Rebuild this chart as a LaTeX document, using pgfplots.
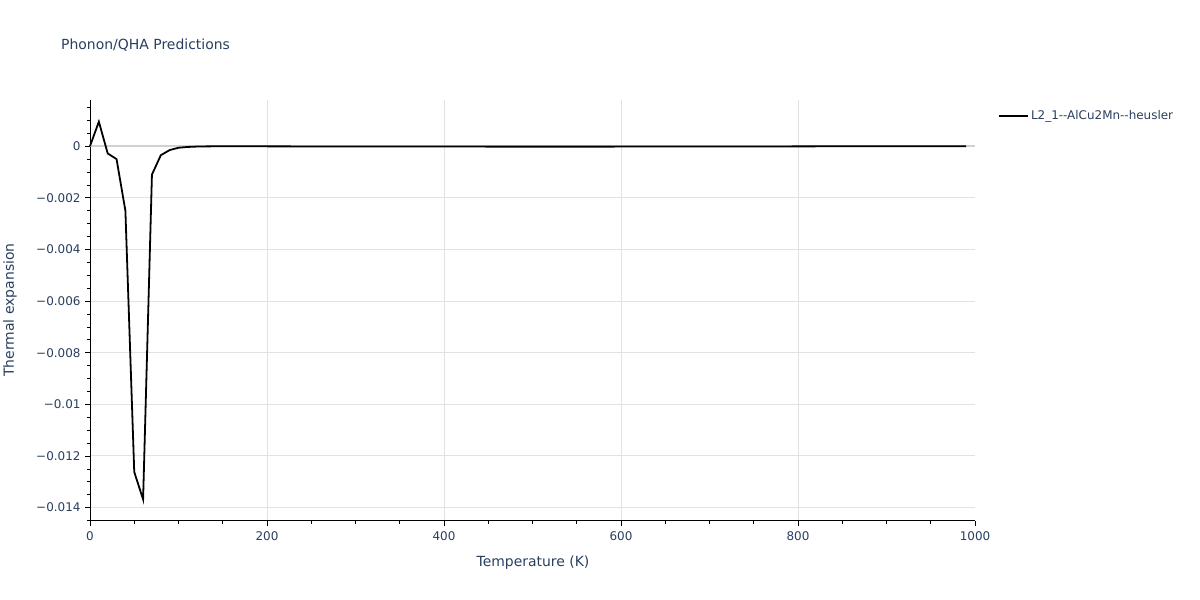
\documentclass[border=0pt]{standalone}
\usepackage{pgfplots}
\pgfplotsset{compat=1.18}
\usepackage{fontspec}
\setmainfont{DejaVu Sans}
\definecolor{txt}{HTML}{2A3F5F}
\definecolor{grd}{HTML}{E2E2E2}
\definecolor{zl}{HTML}{D0D0D0}
\begin{document}
\begin{tikzpicture}[x=1bp,y=1bp]
\fill[white] (0,0) rectangle (1200,600);
\begin{axis}[
  at={(90bp,79.3bp)}, anchor=south west,
  scale only axis, width=885bp, height=420.7bp,
  xmin=0, xmax=1000,
  ymin=-0.014506, ymax=0.00179,
  axis x line*=bottom, axis y line*=left,
  axis line style={black, line width=1pt},
  xtick={0,200,...,800},
  xticklabels={0,200,400,600,800},
  extra x ticks={1000},
  extra x tick labels={1000},
  extra x tick style={grid=none},
  minor xtick={50,100,...,950},
  ytick={-0.014,-0.012,...,0.0001},
  minor ytick={-0.0145,-0.014,...,0.0016},
  yticklabels={−0.014,−0.012,−0.01,−0.008,−0.006,−0.004,−0.002,0},
  tick align=outside,
  major tick length=5bp, minor tick length=3bp,
  tick style={black, line width=0.8pt},
  xmajorgrids, ymajorgrids,
  major grid style={grd, line width=1pt},
  ticklabel style={font=\fontsize{12}{14}\selectfont, text=txt},
  xticklabel style={yshift=-2bp},
  yticklabel style={xshift=-1bp},
  scaled y ticks=false,
  clip=false,
  legend style={at={(1.026,0.985)}, anchor=north west, draw=none, fill=none,
    font=\fontsize{12}{14}\selectfont, text=txt, inner xsep=0pt},
  legend cell align=left,
  legend image code/.code={\draw[#1] (0bp,0bp) -- (29bp,0bp);},
]
\draw[zl, line width=2pt] (axis cs:0,0) -- (axis cs:1000,0);
\addplot[black, line width=1.8pt, mark=none] coordinates {
(0,0) (10,0.00095) (20,-0.00028) (30,-0.0005) (40,-0.0025) (50,-0.01262)
(60,-0.01368) (70,-0.0011) (80,-0.00035) (90,-0.00015) (100,-0.00006)
(110,-0.00003) (120,-0.000015) (130,-0.000008) (140,-0.000005) (150,-0.000004)
(160,-0.000004) (170,-0.000005) (180,-0.000005) (190,-0.000006) (200,-0.000006)
(210,-0.000007) (220,-0.000007) (230,-0.000008) (240,-0.000008) (250,-0.000009)
(260,-0.000009) (270,-0.00001) (280,-0.00001) (290,-0.00001) (300,-0.000011)
(310,-0.000011) (320,-0.000012) (330,-0.000012) (340,-0.000012) (350,-0.000013)
(360,-0.000013) (370,-0.000013) (380,-0.000014) (390,-0.000014) (400,-0.000014)
(410,-0.000015) (420,-0.000015) (430,-0.000015) (440,-0.000015) (450,-0.000016)
(460,-0.000016) (470,-0.000016) (480,-0.000016) (490,-0.000016) (500,-0.000016)
(510,-0.000016) (520,-0.000016) (530,-0.000016) (540,-0.000016) (550,-0.000016)
(560,-0.000016) (570,-0.000016) (580,-0.000016) (590,-0.000016) (600,-0.000015)
(610,-0.000015) (620,-0.000015) (630,-0.000015) (640,-0.000014) (650,-0.000014)
(660,-0.000014) (670,-0.000013) (680,-0.000013) (690,-0.000013) (700,-0.000012)
(710,-0.000012) (720,-0.000011) (730,-0.000011) (740,-0.00001) (750,-0.00001)
(760,-0.000009) (770,-0.000009) (780,-0.000008) (790,-0.000008) (800,-0.000007)
(810,-0.000007) (820,-0.000006) (830,-0.000006) (840,-0.000005) (850,-0.000005)
(860,-0.000004) (870,-0.000004) (880,-0.000003) (890,-0.000003) (900,-0.000002)
(910,-0.000002) (920,-0.000001) (930,-0.000001) (940,0) (950,0)
(960,0) (970,0) (980,0) (990,0)
};
\addlegendentry{L2\_1-{}-AlCu2Mn-{}-heusler}
\end{axis}
\node[anchor=west, text=txt, font=\fontsize{14}{17}\selectfont, inner sep=0pt] at (61,555) {Phonon/QHA Predictions};
\node[text=txt, font=\fontsize{14}{17}\selectfont, inner sep=0pt] at (533,37) {Temperature (K)};
\node[text=txt, font=\fontsize{14}{17}\selectfont, inner sep=0pt, rotate=90] at (10,290) {Thermal expansion};
\end{tikzpicture}
\end{document}
